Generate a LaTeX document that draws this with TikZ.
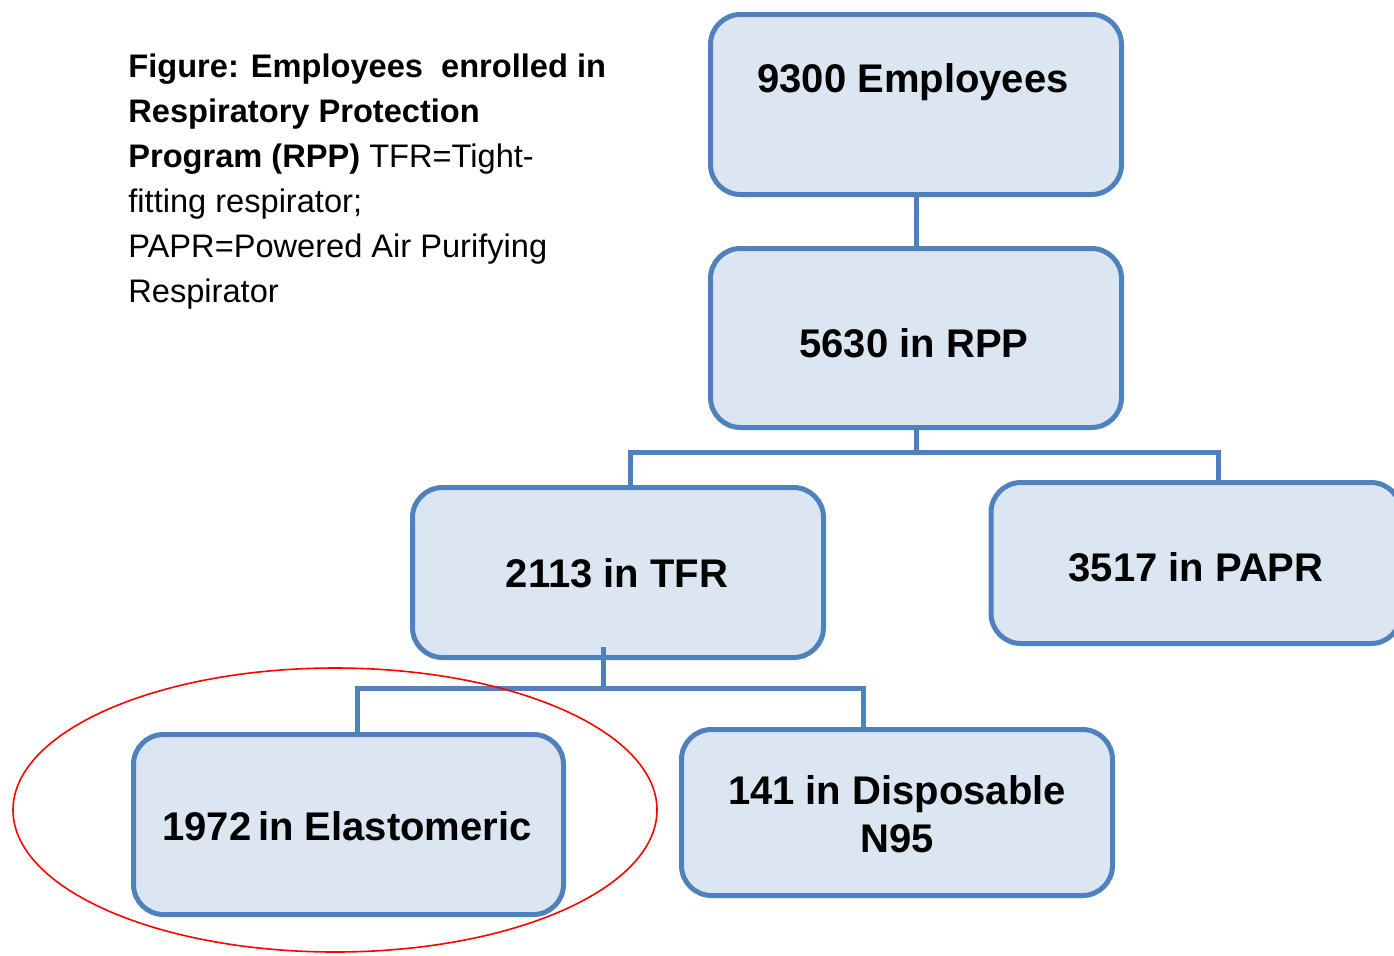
\documentclass[tikz,border=0pt]{standalone}
\usepackage{fontspec}
\setmainfont{Liberation Sans}
\definecolor{boxline}{HTML}{4F81BD}
\definecolor{boxfill}{HTML}{DCE6F2}
\begin{document}
\begin{tikzpicture}[x=0.5pt,y=-0.5pt,
  box/.style={draw=boxline, fill=boxfill, line width=2.5pt, rounded corners=15pt, inner sep=0pt},
  conn/.style={draw=boxline, line width=2.5pt},
  boxtext/.style={font=\fontsize{20}{24}\selectfont\bfseries, align=center, inner sep=0pt}]
\useasboundingbox (0,0) rectangle (1394,955);
% boxes
\node[box, minimum width=205.5pt, minimum height=90pt] (e) at (916,104.5) {};
\node[box, minimum width=205.5pt, minimum height=89.5pt] (r) at (916,338) {};
\node[box, minimum width=205.5pt, minimum height=85pt] (t) at (618,572.5) {};
\node[box, minimum width=205pt, minimum height=80.5pt] (p) at (1196,563) {};
\node[box, minimum width=215pt, minimum height=90pt] (el) at (348.5,824.5) {};
\node[box, minimum width=215.5pt, minimum height=83pt] (d) at (897,812.5) {};
% texts
\node[boxtext] (te) at (913,82) {9300 Employees};
\node[boxtext] (tr) at (914,343) {5630 in RPP};
\node[boxtext] (tt) at (617,573) {2113 in TFR};
\node[boxtext] (tp) at (1196,567) {3517 in PAPR};
\node[boxtext] (tel) at (347,826) {1972\,in Elastomeric};
\node[boxtext] (td) at (897,814) {141 in Disposable\\N95};
% connectors
\coordinate (j1) at (916,452);
\coordinate (tA) at (630,485);
\coordinate (pA) at (1218,480);
\coordinate (j2) at (603,688);
\coordinate (elA) at (357,732);
\coordinate (dA) at (863,727);
\draw[conn] (e.south) -- (r.north);
\draw[conn] (r.south) -- (j1);
\draw[conn] (tA) |- (pA |- j1) -- (pA);
\draw[conn] (603,647) -- (j2);
\draw[conn] (elA) |- (dA |- j2) -- (dA);
% caption
\node[anchor=north west, align=left, inner sep=0pt, font=\fontsize{16.3}{22.5}\selectfont] (cap) at (128,53)
 {\textbf{Figure: Employees\ \ enrolled in}\\
  \textbf{Respiratory Protection}\\
  \textbf{Program (RPP)} TFR=Tight-\\
  fitting\ respirator;\\
  PAPR=Powered\ Air Purifying\\
  Respirator};
% red ellipse
\draw[red, line width=0.8pt] (335,810) ellipse [x radius=322, y radius=142];
\end{tikzpicture}
\end{document}
